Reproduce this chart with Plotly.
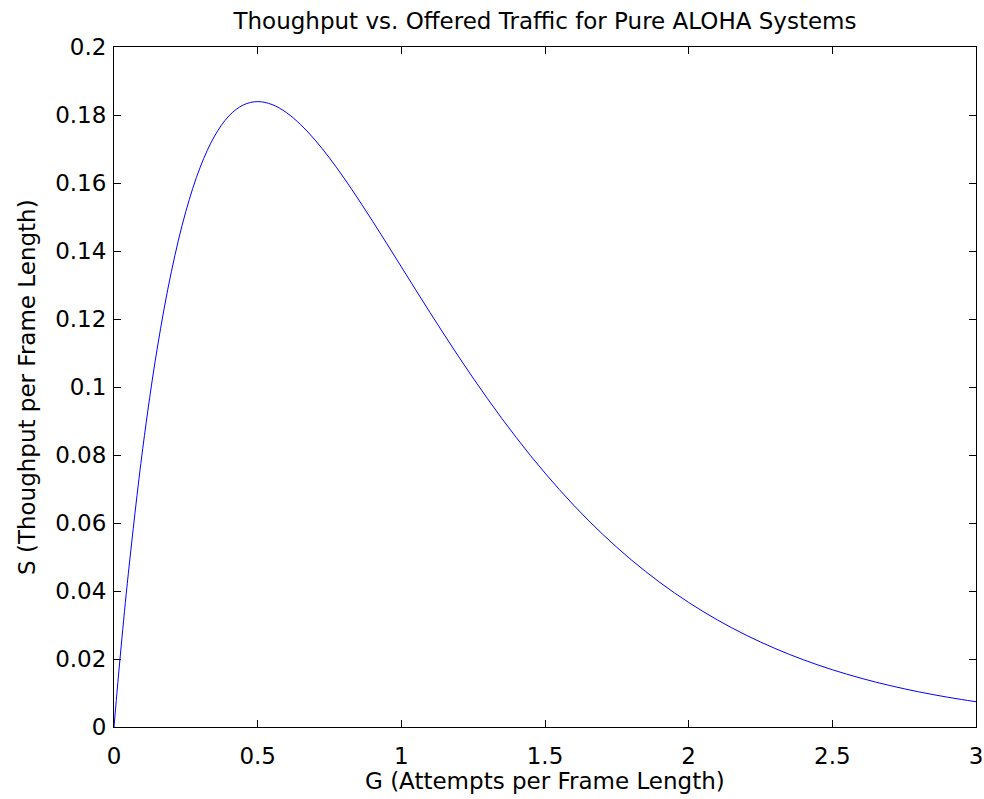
import plotly.graph_objects as go

# Values
G = [0, 0.01, 0.025, 0.05, 0.1, 0.15, 0.2, 0.25, 0.3, 0.35, 0.4, 0.45, 0.5, 0.55, 0.6, 0.65,
     0.7, 0.75, 0.8, 0.85, 0.9, 0.95, 1.0, 1.05, 1.1, 1.15, 1.2, 1.25, 1.3, 1.35,
     1.4, 1.45, 1.5, 1.55, 1.6, 1.65, 1.7, 1.75, 1.8, 1.85, 1.9, 1.95, 2.0, 2.05,
     2.1, 2.15, 2.2, 2.25, 2.3, 2.35, 2.4, 2.45, 2.5, 2.55, 2.6, 2.65, 2.7, 2.75,
     2.8, 2.85, 2.9, 2.95, 3.0]
S = [0, 0.0098, 0.0238, 0.04524, 0.08187, 0.11112, 0.13406, 0.15163, 0.16464, 0.17380, 0.17973,
     0.18296, 0.18394, 0.18308, 0.18072, 0.17715, 0.17262, 0.16735, 0.16152, 0.15528,
     0.14877, 0.14209, 0.13534, 0.12858, 0.12188, 0.11530, 0.10886, 0.10261, 0.09656,
     0.09073, 0.08513, 0.07978, 0.07468, 0.06983, 0.06522, 0.06086, 0.05673, 0.05285,
     0.04918, 0.04574, 0.04251, 0.03947, 0.03663, 0.03397, 0.03149, 0.02917, 0.02701,
     0.02500, 0.02312, 0.02137, 0.01975, 0.01824, 0.01684, 0.01555, 0.01434, 0.01323,
     0.01220, 0.01124, 0.01035, 0.00954, 0.00878, 0.00808, 0.00744]

x_ticks = [0, 0.5, 1, 1.5, 2, 2.5, 3]
x_tick_labels = ["0", "0.5", "1", "1.5", "2", "2.5", "3"]
y_ticks = [0, 0.02, 0.04, 0.06, 0.08, 0.1, 0.12, 0.14, 0.16, 0.18, 0.2]
y_tick_labels = ["0", "0.02", "0.04", "0.06", "0.08", "0.1", "0.12", "0.14", "0.16", "0.18", "0.2"]

W, H = 984, 799
L, R, T, B = 114, 8, 47, 72
PW, PH = W - L - R, H - T - B

fig = go.Figure()
fig.add_trace(go.Scatter(x=G, y=S, mode="lines", line=dict(color="#0000ff", width=1, shape="spline"),
                         showlegend=False, hoverinfo="x+y"))

font = "DejaVu Sans, Liberation Sans, Arial, sans-serif"
FS = 23
axis_common = dict(showline=True, linecolor="black", linewidth=1, mirror="ticks",
                   ticks="inside", ticklen=7, tickcolor="black", showgrid=False, zeroline=False,
                   automargin=False, ticklabeloverflow="allow",
                   tickfont=dict(family=font, size=FS, color="black"))

fig.update_layout(
    width=W, height=H,
    margin=dict(l=L, r=R, t=T, b=B),
    paper_bgcolor="white", plot_bgcolor="white",
    title=dict(text="Thoughput vs. Offered Traffic for Pure ALOHA Systems",
               x=(L + PW / 2) / W, xref="container", xanchor="center",
               y=1 - 21 / H, yanchor="middle",
               font=dict(family=font, size=FS, color="black")),
    xaxis=dict(range=[0, 3], tickvals=x_ticks, ticktext=x_tick_labels,
               ticklabelstandoff=8, **axis_common),
    yaxis=dict(range=[0, 0.2], tickvals=y_ticks, ticktext=y_tick_labels,
               ticklabelstandoff=2, **axis_common),
    annotations=[
        dict(text="G (Attempts per Frame Length)", xref="paper", yref="paper",
             x=0.5, y=-(781 - (T + PH)) / PH, xanchor="center", yanchor="middle",
             showarrow=False, font=dict(family=font, size=FS, color="black")),
        dict(text="S (Thoughput per Frame Length)", xref="paper", yref="paper",
             x=-(L - 27) / PW, y=0.5, xanchor="center", yanchor="middle", textangle=-90,
             showarrow=False, font=dict(family=font, size=FS, color="black")),
    ],
)

fig.write_html("out.html", default_width="984px", default_height="799px",
               config={"displayModeBar": False},
               post_script="document.body.style.margin='0';document.body.style.overflow='hidden';")
